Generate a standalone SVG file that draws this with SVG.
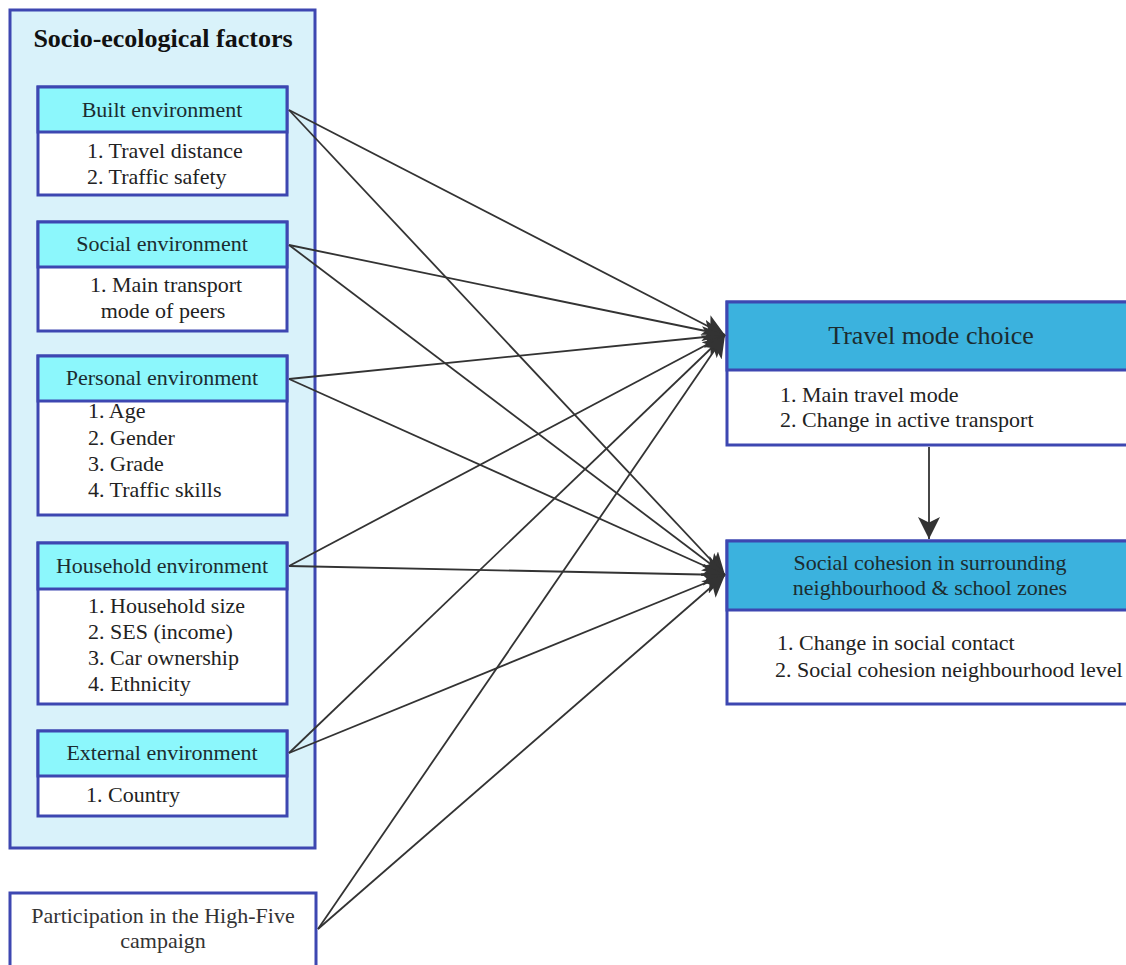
<svg xmlns="http://www.w3.org/2000/svg" width="1126" height="965" viewBox="0 0 1126 965">
  <style>
    text { font-family: "Liberation Serif", "Times New Roman", serif; font-size: 22px; fill: #222; }
    .title { font-size: 26px; font-weight: bold; fill: #111; }
    .big { font-size: 26px; fill: #1c2c30; }
    .hdr { fill: #1c2c30; }
    .mid { text-anchor: middle; }
    .frame { fill: #d9f2fa; stroke: #3d47b1; stroke-width: 3; }
    .box { fill: #ffffff; stroke: #3d47b1; stroke-width: 3; }
    .head { fill: #8cf7fc; stroke: #3d47b1; stroke-width: 3; }
    .head2 { fill: #3bb2de; stroke: #3d47b1; stroke-width: 3; }
    .link { fill: none; stroke: #333; stroke-width: 1.8; }
  </style>
  <defs>
    <marker id="arrow" viewBox="0 0 20 20" refX="20" refY="10" markerWidth="22" markerHeight="22" markerUnits="userSpaceOnUse" orient="auto">
      <path d="M0,0 L20,10 L0,20 L5,10 Z" fill="#333"/>
    </marker>
  </defs>

  <rect width="1126" height="965" fill="#ffffff"/>

  <!-- Socio-ecological factors container -->
  <g id="socio-ecological">
    <rect class="frame" x="10" y="10" width="305" height="838"/>
    <text class="title mid" x="163" y="47">Socio-ecological factors</text>
  </g>

  <g id="built-environment">
    <rect class="box" x="38" y="87" width="249" height="108"/>
    <rect class="head" x="38" y="87" width="249" height="45"/>
    <text class="hdr mid" x="162" y="117">Built environment</text>
    <text x="87" y="158">1. Travel distance</text>
    <text x="87" y="184">2. Traffic safety</text>
  </g>

  <g id="social-environment">
    <rect class="box" x="38" y="222" width="249" height="109"/>
    <rect class="head" x="38" y="222" width="249" height="45"/>
    <text class="hdr mid" x="162" y="251">Social environment</text>
    <text class="mid" x="166" y="292">1. Main transport</text>
    <text class="mid" x="163" y="318">mode of peers</text>
  </g>

  <g id="personal-environment">
    <rect class="box" x="38" y="356" width="249" height="159"/>
    <rect class="head" x="38" y="356" width="249" height="45"/>
    <text class="hdr mid" x="162" y="385">Personal environment</text>
    <text x="88" y="418">1. Age</text>
    <text x="88" y="445">2. Gender</text>
    <text x="88" y="471">3. Grade</text>
    <text x="88" y="497">4. Traffic skills</text>
  </g>

  <g id="household-environment">
    <rect class="box" x="38" y="543" width="249" height="161"/>
    <rect class="head" x="38" y="543" width="249" height="46"/>
    <text class="hdr mid" x="162" y="573">Household environment</text>
    <text x="88" y="613">1. Household size</text>
    <text x="88" y="639">2. SES (income)</text>
    <text x="88" y="665">3. Car ownership</text>
    <text x="88" y="691">4. Ethnicity</text>
  </g>

  <g id="external-environment">
    <rect class="box" x="38" y="731" width="249" height="85"/>
    <rect class="head" x="38" y="731" width="249" height="45"/>
    <text class="hdr mid" x="162" y="760">External environment</text>
    <text x="86" y="802">1. Country</text>
  </g>

  <g id="high-five">
    <rect class="box" x="10" y="893" width="306" height="82"/>
    <text class="mid" x="163" y="923" style="fill:#333">Participation in the High-Five</text>
    <text class="mid" x="163" y="948" style="fill:#333">campaign</text>
  </g>

  <g id="travel-mode-choice">
    <rect class="box" x="727" y="302" width="406" height="143"/>
    <rect class="head2" x="727" y="302" width="406" height="68"/>
    <text class="big mid" x="931" y="344">Travel mode choice</text>
    <text x="780" y="402">1. Main travel mode</text>
    <text x="780" y="427">2. Change in active transport</text>
  </g>

  <g id="social-cohesion">
    <rect class="box" x="727" y="541" width="406" height="163"/>
    <rect class="head2" x="727" y="541" width="406" height="69"/>
    <text class="hdr mid" x="930" y="570">Social cohesion in surrounding</text>
    <text class="hdr mid" x="930" y="595">neighbourhood &amp; school zones</text>
    <text x="777" y="650">1. Change in social contact</text>
    <text x="775" y="677">2. Social cohesion neighbourhood level</text>
  </g>

  <!-- Connectors -->
  <g id="connectors" marker-end="url(#arrow)">
    <line class="link" x1="289" y1="110" x2="725" y2="335"/>
    <line class="link" x1="289" y1="110" x2="725" y2="575"/>
    <line class="link" x1="289" y1="245" x2="725" y2="335"/>
    <line class="link" x1="289" y1="245" x2="725" y2="575"/>
    <line class="link" x1="289" y1="379" x2="725" y2="335"/>
    <line class="link" x1="289" y1="379" x2="725" y2="575"/>
    <line class="link" x1="289" y1="566" x2="725" y2="335"/>
    <line class="link" x1="289" y1="566" x2="725" y2="575"/>
    <line class="link" x1="289" y1="753" x2="725" y2="335"/>
    <line class="link" x1="289" y1="753" x2="725" y2="575"/>
    <line class="link" x1="318" y1="929" x2="725" y2="335"/>
    <line class="link" x1="318" y1="929" x2="725" y2="575"/>
    <line class="link" x1="929" y1="447" x2="929" y2="539"/>
  </g>
</svg>
